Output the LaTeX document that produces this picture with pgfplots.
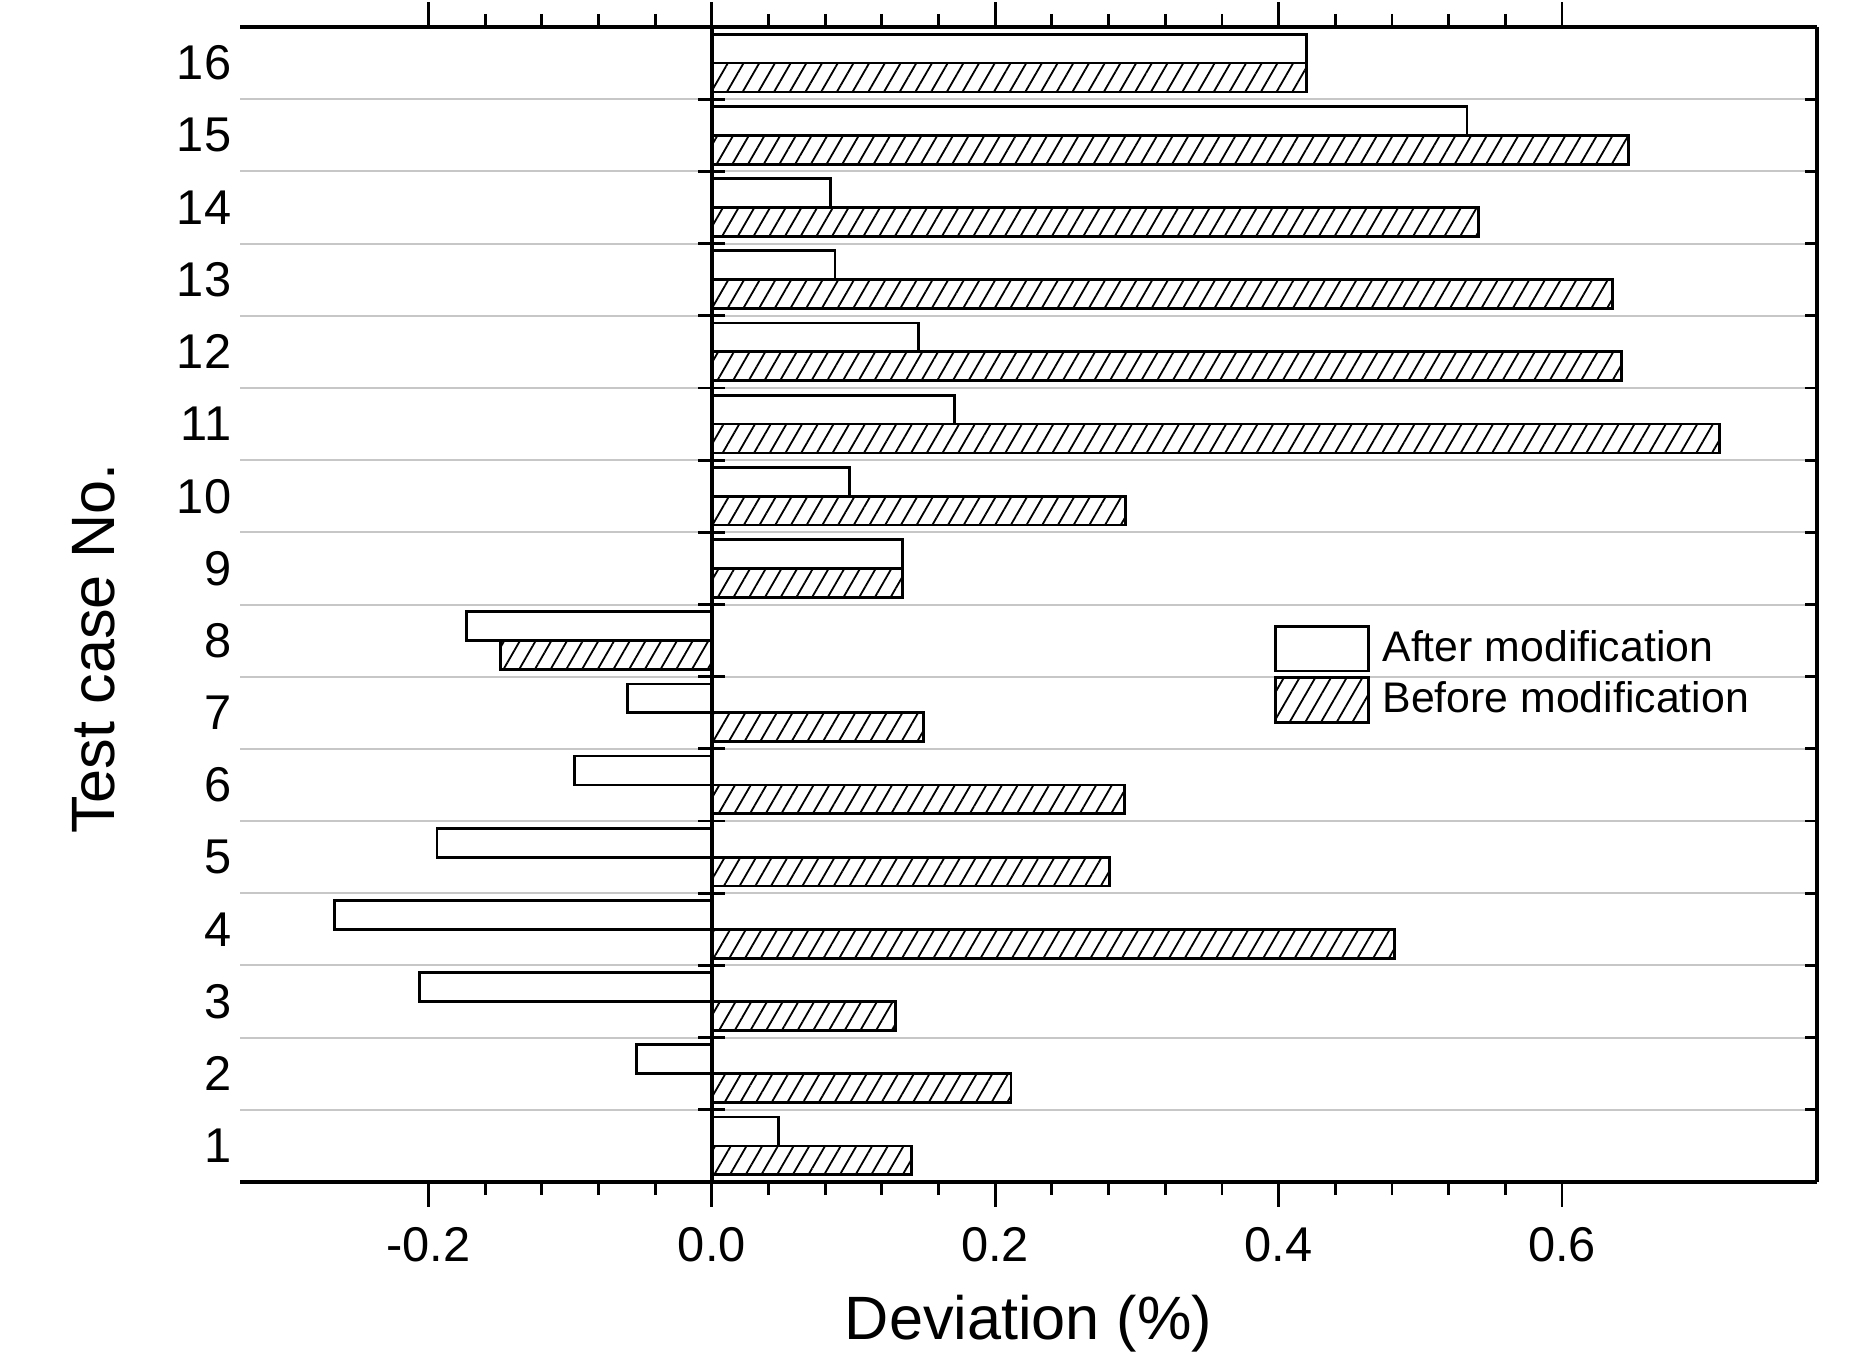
\documentclass[border=0pt]{standalone}
\usepackage{pgfplots}
\pgfplotsset{compat=1.18}
\usepackage{pgfplotstable}
\usepackage{fontspec}
\setmainfont{Liberation Sans}
\usetikzlibrary{patterns.meta}

% deviation per test case: after / before modification (%)
\pgfplotstableread{
case after   before
1    0.047   0.1412
2   -0.053   0.2112
3   -0.2064  0.1295
4   -0.2664  0.482
5   -0.194   0.2804
6   -0.0972  0.291
7   -0.0597  0.1495
8   -0.173  -0.149
9    0.1345  0.1345
10   0.097   0.292
11   0.171   0.711
12   0.146   0.642
13   0.087   0.6355
14   0.0837  0.541
15   0.533   0.647
16   0.4196  0.4196
}\devdata

\newcommand\ticksize{\fontsize{12.2}{14}\selectfont}
\newcommand\labelsize{\fontsize{15.3}{18}\selectfont}

\pgfplotsset{
  base/.style={
    scale only axis, width=394.25pt, height=288.75pt,
    xmin=-0.333, xmax=0.78, ymin=0.5, ymax=16.5,
    at={(0pt,0pt)}, anchor=south west,
    /pgf/number format/assume math mode=true,
    tick label style={font=\ticksize},
  },
  bounds/.style={ytick={1.5,2.5,...,15.5}, yticklabels={}},
}

\begin{document}
\begin{tikzpicture}
% frame, grid, x ticks and the bars
\begin{axis}[base, bounds,
  axis x line=box, axis y line=right,
  x axis line style={line width=1pt},
  y axis line style={line width=1pt,-},
  xtick={-0.2,0,0.2,0.4,0.6},
  xticklabels={-0.2,0.0,0.2,0.4,0.6},
  minor x tick num=4,
  tick align=outside,
  major tick length=6.2pt, minor tick length=3.3pt,
  xtick style={line width=0.7pt, black},
  ytick style={draw=none},
  ymajorgrids,
  major grid style={line width=0.5pt, black!22},
  xticklabel style={inner sep=0pt, yshift=-5pt},
  xlabel={Deviation (\%)},
  xlabel style={at={(axis description cs:0.5,-0.136)}, anchor=base, font=\labelsize},
  legend image code/.code={\draw[#1, line width=0.7pt] (0pt,-5.6pt) rectangle (23.25pt,5.6pt);},
  legend style={at={(0.655,0.4831)}, anchor=north west, draw=none, fill=none,
    inner sep=0pt, row sep=1pt, column sep=3.25pt,
    nodes={inner sep=0pt}, font=\fontsize{10.7}{12.8}\selectfont},
  legend cell align=left,
]
\addplot[xbar, bar width=0.4, bar shift=0.2, draw=black, line width=0.7pt, fill=white]
  table[x=after, y=case] {\devdata};
\addlegendentry{After modification}
\addplot[xbar, bar width=0.4, bar shift=-0.2, draw=black, line width=0.7pt,
  pattern={Lines[angle=60, distance=3.4pt, line width=0.45pt]}, pattern color=black]
  table[x=before, y=case] {\devdata};
\addlegendentry{Before modification}
\end{axis}
% zero line with centred ticks at the case boundaries
\begin{axis}[base, bounds,
  axis x line=none, axis y line=middle,
  y axis line style={line width=0.9pt,-},
  xtick={},
  tick align=center, major tick length=6.7pt,
  ytick style={line width=0.7pt, black},
]
\end{axis}
% inner ticks on the right edge
\begin{axis}[base, bounds,
  axis x line=none, axis y line=right,
  y axis line style={line width=1pt,-},
  tick align=inside, major tick length=3pt,
  ytick style={line width=0.7pt, black},
]
\end{axis}
% case numbers and the vertical label
\begin{axis}[base,
  axis x line=none, axis y line=left,
  y axis line style={draw=none},
  ytick={1,...,16},
  ytick style={draw=none},
  tick align=inside,
  yticklabel style={anchor=east, inner sep=0pt, xshift=-2pt},
  ylabel={Test case No.},
  ylabel style={at={(axis description cs:-0.0793,0.462)}, anchor=base, font=\labelsize},
]
\end{axis}
\pgfresetboundingbox
\useasboundingbox (-60pt,-42.25pt) rectangle (403.25pt,295.5pt);
\end{tikzpicture}
\end{document}
